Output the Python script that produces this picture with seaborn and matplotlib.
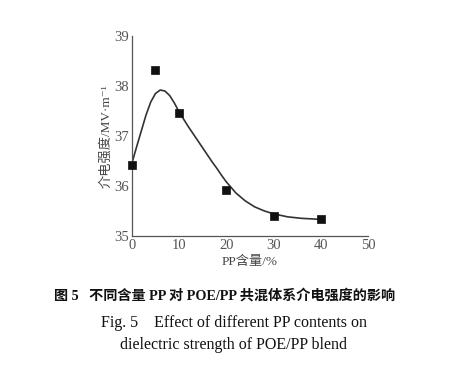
import matplotlib
matplotlib.use("Agg")
import matplotlib.pyplot as plt
import seaborn as sns
import pandas as pd

# measured data
pp_content = [0, 5, 10, 20, 30, 40]
strength = [36.42, 38.33, 37.46, 35.92, 35.40, 35.34]

# fitted curve
fit_x = [0, 1, 2, 3, 4, 5, 6, 7, 8, 9, 10, 11, 12, 13, 14, 15, 16, 17, 18, 19, 20,
         22, 24, 26, 28, 30, 33, 36, 40]
fit_y = [36.45, 36.78, 37.10, 37.42, 37.68, 37.85, 37.92, 37.90, 37.81, 37.66, 37.48,
         37.33, 37.18, 37.04, 36.90, 36.76, 36.62, 36.48, 36.35, 36.21, 36.08,
         35.86, 35.70, 35.58, 35.50, 35.44, 35.38, 35.35, 35.33]

x_ticks = [0, 10, 20, 30, 40, 50]
y_ticks = [35, 36, 37, 38, 39]

sns.set_theme(style="white")
FAM = ['Liberation Serif', 'Noto Sans CJK SC', 'DejaVu Serif', 'DejaVu Sans']
plt.rcParams['font.family'] = FAM

fig = plt.figure(figsize=(4.5, 3.72), dpi=100)
ax = fig.add_axes([0.293, 0.366, 0.525, 0.537])

df_pts = pd.DataFrame({"x": pp_content, "y": strength})
df_fit = pd.DataFrame({"x": fit_x, "y": fit_y})

sns.lineplot(data=df_fit, x="x", y="y", ax=ax, color="#333333", linewidth=1.2, sort=True)
sns.scatterplot(data=df_pts, x="x", y="y", ax=ax, marker="s", s=26, color="#111111",
                edgecolor="#111111", linewidth=0.5, zorder=5, clip_on=False)

ax.set_xlim(0, 50)
ax.set_ylim(35, 39)
ax.set_xticks(x_ticks)
ax.set_yticks(y_ticks)
ax.tick_params(direction="in", length=3, width=0.8, colors="#555555", labelsize=10.5,
               labelcolor="#555555", pad=2)
for s in ["top", "right"]:
    ax.spines[s].set_visible(False)
for s in ["left", "bottom"]:
    ax.spines[s].set_color("#555555")
    ax.spines[s].set_linewidth(0.9)

ax.set_xlabel("PP含量/%", fontsize=9.5, color="#444444", labelpad=3, family=FAM)
ax.set_ylabel("介电强度/MV·m⁻¹", fontsize=9.5, color="#444444", labelpad=1, family=FAM)

fig.text(0.5, 1 - 296/372, "图 5   不同含量 PP 对 POE/PP 共混体系介电强度的影响",
         ha="center", va="center", fontsize=10.2, fontweight="bold", color="#111111",
         family=FAM)
fig.text(0.52, 1 - 323/372, "Fig. 5    Effect of different PP contents on",
         ha="center", va="center", fontsize=11.5, color="#111111", family="Liberation Serif")
fig.text(0.52, 1 - 345/372, "dielectric strength of POE/PP blend",
         ha="center", va="center", fontsize=11.5, color="#111111", family="Liberation Serif")

fig.savefig("out.png", dpi=100, facecolor="white")
